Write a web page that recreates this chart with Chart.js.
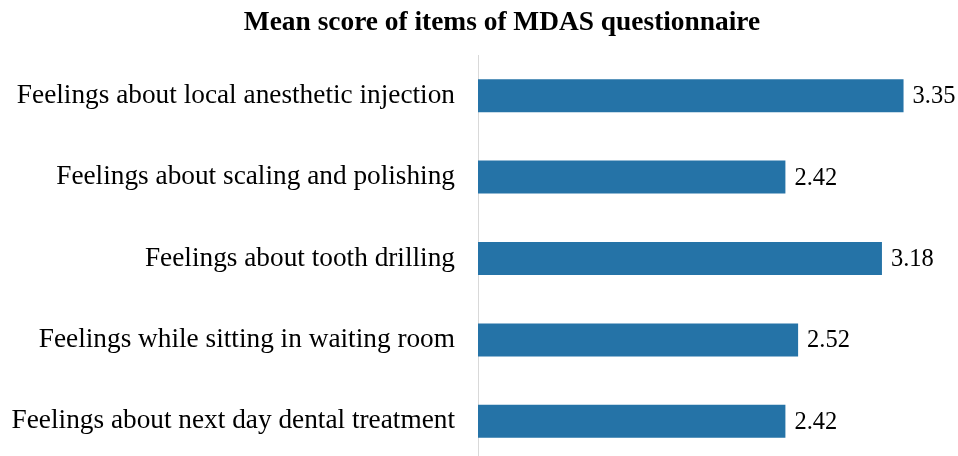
<!DOCTYPE html>
<html>
<head>
<meta charset="utf-8">
<script src="https://cdn.jsdelivr.net/npm/chart.js@4/dist/chart.umd.min.js"></script>
<style>
    html, body { margin: 0; padding: 0; background: #fff; overflow: hidden; }
    canvas { display: block; }
</style>
</head>
<body>
<canvas id="mdasChart" width="958" height="462"></canvas>
<script>
const chartTitle = 'Mean score of items of MDAS questionnaire';
const items = [
    'Feelings about local anesthetic injection',
    'Feelings about scaling and polishing',
    'Feelings about tooth drilling',
    'Feelings while sitting in waiting room',
    'Feelings about next day dental treatment'
];
const meanScores = [3.35, 2.42, 3.18, 2.52, 2.42];

const serif = "'Liberation Serif', 'Times New Roman', serif";

// title sits a bit right of the canvas centre in the original
const titleText = {
    id: 'titleText',
    afterDraw(chart) {
        const ctx = chart.ctx;
        ctx.save();
        ctx.font = 'bold 27.4px ' + serif;
        ctx.fillStyle = '#000';
        ctx.textAlign = 'center';
        ctx.textBaseline = 'middle';
        ctx.fillText(chartTitle, 502, 23);
        ctx.restore();
    }
};

// writes the value just past the end of each bar
const valueLabels = {
    id: 'valueLabels',
    afterDatasetsDraw(chart) {
        const ctx = chart.ctx;
        const meta = chart.getDatasetMeta(0);
        ctx.save();
        ctx.font = '24.5px ' + serif;
        ctx.fillStyle = '#000';
        ctx.textAlign = 'left';
        ctx.textBaseline = 'middle';
        meta.data.forEach((bar, i) => {
            ctx.fillText(meanScores[i].toFixed(2), bar.x + 9, bar.y + 1);
        });
        ctx.restore();
    }
};

const ctx = document.getElementById('mdasChart').getContext('2d');
new Chart(ctx, {
    type: 'bar',
    data: {
        labels: items,
        datasets: [{
            data: meanScores,
            backgroundColor: '#2573a7',
            borderWidth: 0,
            barPercentage: 0.405,
            categoryPercentage: 1
        }]
    },
    options: {
        indexAxis: 'y',
        responsive: false,
        animation: false,
        layout: { padding: { left: 0, right: 10, top: 55, bottom: 0 } },
        plugins: {
            legend: { display: false },
            tooltip: { enabled: false },
            title: { display: false }
        },
        scales: {
            x: {
                display: false,
                min: 0,
                max: 3.7
            },
            y: {
                afterFit(scale) {
                    scale.width = 478;
                    scale.paddingTop = 0;
                    scale.paddingBottom = 0;
                },
                grid: { display: false, drawTicks: false },
                border: { display: true, color: '#d9d9d9', width: 1 },
                ticks: {
                    color: '#000',
                    padding: 23,
                    font: { family: serif, size: 27.3 }
                }
            }
        }
    },
    plugins: [valueLabels, titleText]
});
</script>
</body>
</html>
